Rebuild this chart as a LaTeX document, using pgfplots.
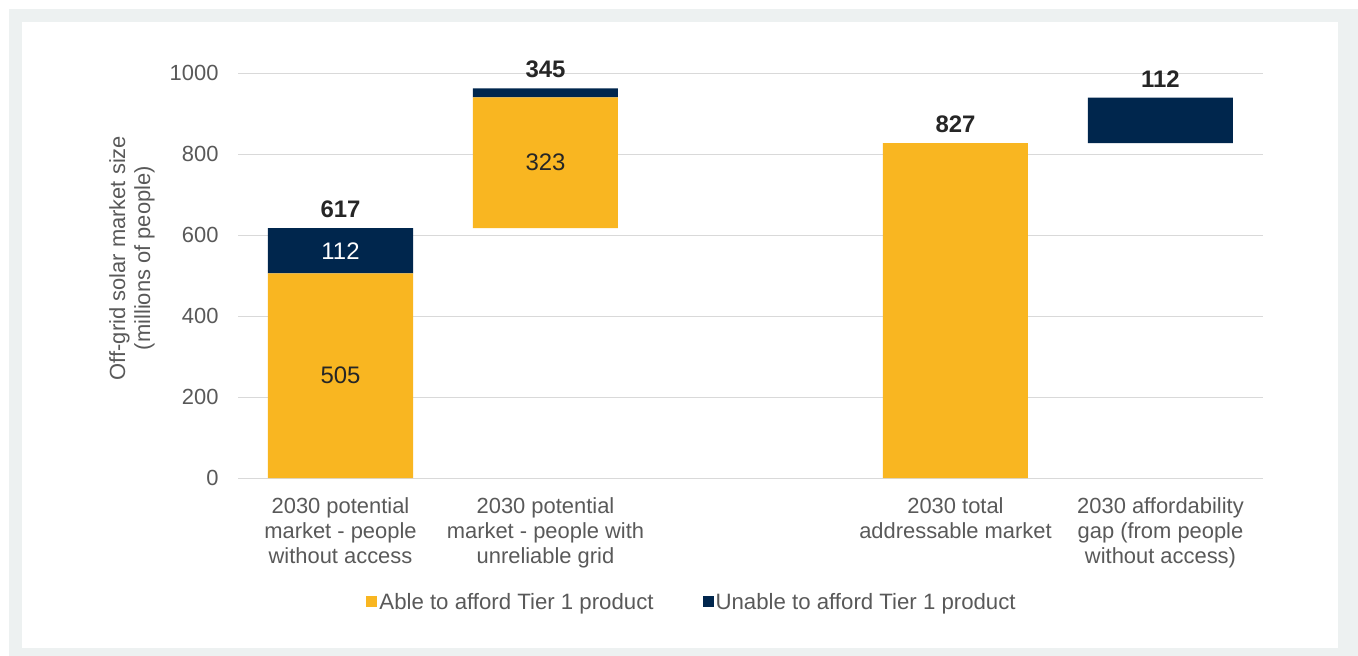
\documentclass[border=0pt]{standalone}
\usepackage{fontspec}
\setmainfont{Liberation Sans}
\usepackage{pgfplots}
\usepackage{pgfplotstable}
\pgfplotsset{compat=1.18}

\definecolor{ablecol}{HTML}{F9B621}
\definecolor{unablecol}{HTML}{00264D}
\definecolor{txtgray}{HTML}{595959}
\definecolor{gridgray}{HTML}{D9D9D9}
\definecolor{framegray}{HTML}{EDF1F1}
\definecolor{lbl}{HTML}{262626}

% waterfall: invisible base + two stacked parts
\pgfplotstableread{
x base able unable
0 0 505 112
1 617 323 22
3 0 827 0
4 827 0 112
}\bars

% labels inside the bars (y = middle of segment)
\pgfplotstableread{
x y label
0 252.5 505
1 778.5 323
}\ablelabels
\pgfplotstableread{
x y label
0 561 112
}\unablelabels
% totals above the bars (y = top of bar)
\pgfplotstableread{
x y label
0 617 617
1 962 345
3 827 827
4 939 112
}\totals

\tikzset{reg/.style={font=\fontsize{22}{25}\selectfont}}
\pgfplotsset{
  common/.style={
    scale only axis, width=1025bp, height=405bp,
    at={(238bp,-478bp)}, anchor=south west,
    xmin=-0.5, xmax=4.5, ymin=0, ymax=1000,
    clip=false,
  },
}

\begin{document}
\begin{tikzpicture}
\useasboundingbox (0bp,0bp) rectangle (1358bp,-656bp);
\fill[framegray] (9bp,-9bp) rectangle (1358bp,-656bp);
\fill[white] (22bp,-22bp) rectangle (1338bp,-648bp);

\begin{axis}[
  common,
  ybar stacked, bar width=145bp,
  axis line style={draw=none}, tick style={draw=none},
  major tick length=0pt,
  ymajorgrids, grid style={gridgray, line width=1bp},
  ytick={0,200,...,1000},
  /pgf/number format/1000 sep={},
  /pgf/number format/assume math mode=true,
  yticklabel style={reg, text=txtgray, xshift=-16bp},
  xtick={0,1,3,4},
  xticklabels={{2030 potential\\market - people\\without access},
               {2030 potential\\market - people with\\unreliable grid},
               {2030 total\\addressable market},
               {2030 affordability\\gap (from people\\without access)}},
  xticklabel style={reg, text=txtgray, align=center, yshift=-16bp},
  ylabel={Off-grid solar market size\\(millions of people)},
  ylabel style={reg, text=txtgray, align=center,
    at={(axis description cs:-0.1034,0.543)}, anchor=center},
  legend columns=2,
  legend style={at={(axis description cs:0.443,-0.306)}, anchor=center,
    draw=none, fill=none, font=\fontsize{22.3}{25}\selectfont, text=txtgray,
    /tikz/every even column/.append style={column sep=47bp}},
  legend image code/.code={\fill[#1] (0bp,-5.5bp) rectangle (11bp,5.5bp);},
]
\addplot[draw=none, fill=none, forget plot] table[x=x, y=base] {\bars};
\addplot[draw=none, fill=ablecol] table[x=x, y=able] {\bars};
\addplot[draw=none, fill=unablecol] table[x=x, y=unable] {\bars};
\legend{Able to afford Tier 1 product, Unable to afford Tier 1 product}
\end{axis}

\begin{axis}[common, hide axis]
\addplot[only marks, mark=none, nodes near coords, point meta=explicit symbolic,
  nodes near coords style={anchor=center, text=lbl, font=\fontsize{24}{28}\selectfont}]
  table[x=x, y=y, meta=label] {\ablelabels};
\addplot[only marks, mark=none, nodes near coords, point meta=explicit symbolic,
  nodes near coords style={anchor=center, text=white, font=\fontsize{24}{28}\selectfont}]
  table[x=x, y=y, meta=label] {\unablelabels};
\addplot[only marks, mark=none, nodes near coords, point meta=explicit symbolic,
  nodes near coords style={anchor=center, yshift=19bp, text=lbl, font=\fontsize{24}{28}\selectfont\bfseries}]
  table[x=x, y=y, meta=label] {\totals};
\end{axis}
\end{tikzpicture}
\end{document}
